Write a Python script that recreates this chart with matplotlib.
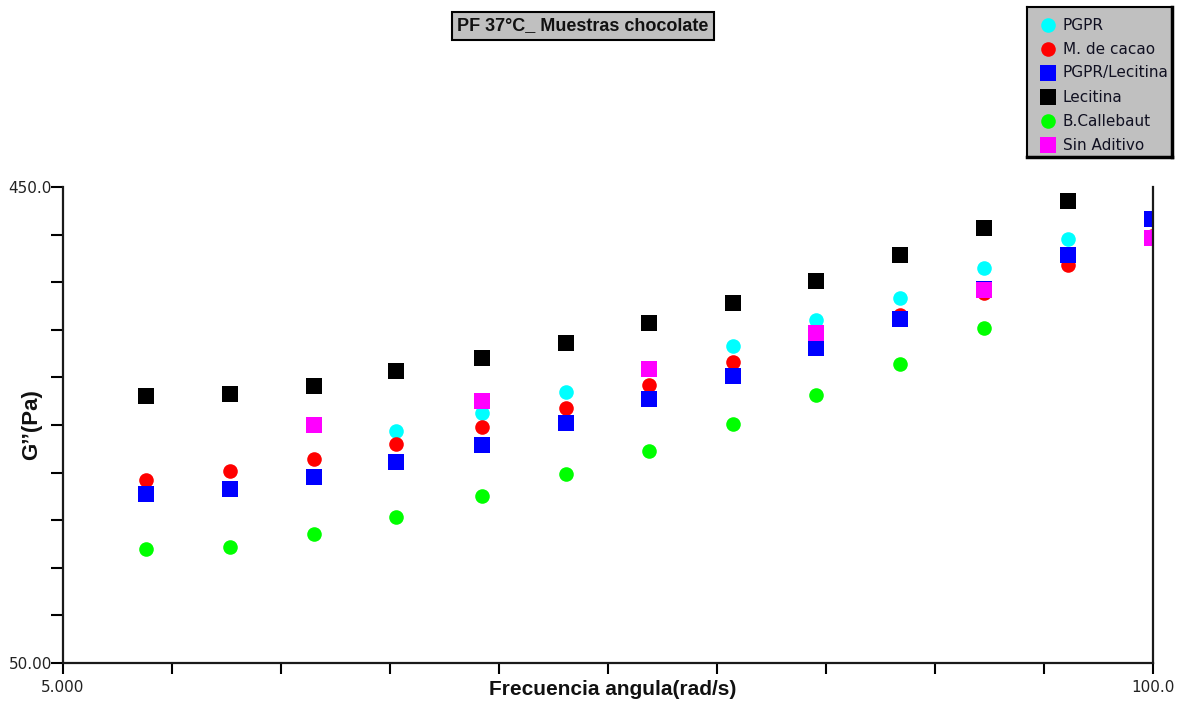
import numpy as np
import matplotlib as mpl
mpl.use('agg')
import matplotlib.pyplot as plt
from matplotlib.ticker import FixedLocator, NullLocator

# angular frequency sweep (rad/s)
freq = [6.28, 7.91, 9.96, 12.5, 15.8, 19.9, 25.0, 31.5, 39.6, 49.9, 62.8, 79.1, 99.6]

# G'' (Pa) for each sample
g_pgpr = [145.9, 158.6, 174.7, 194.3, 216.5, 243.6, 270.2, 309.7, 354.0]
g_cacao = [116.3, 121.3, 128.2, 137.4, 148.6, 162.3, 180.4, 200.2, 221.1, 249.3, 275.9, 314.1, 358.9]
g_pgpr_lec = [109.1, 111.7, 118.0, 126.5, 136.8, 151.4, 169.1, 188.1, 214.0, 244.7, 281.0, 328.9, 388.2]
g_lecitina = [171.7, 173.1, 179.8, 192.5, 204.4, 219.1, 240.2, 263.5, 291.7, 328.9, 372.4, 421.9]
g_callebaut = [84.6, 85.4, 90.7, 98.1, 108.1, 119.7, 133.0, 150.4, 172.3, 198.8, 234.7]
g_sin_aditivo = [150.2, 167.6, 194.3, 229.4, 279.7, 355.6]

# which frequencies each sample was measured at
series = [
    ("PGPR", freq[3:12], g_pgpr, "o", "#00ffff"),
    ("M. de cacao", freq, g_cacao, "o", "#ff0000"),
    ("PGPR/Lecitina", freq, g_pgpr_lec, "s", "#0000ff"),
    ("Lecitina", freq[:12], g_lecitina, "s", "#000000"),
    ("B.Callebaut", freq[:11], g_callebaut, "o", "#00ff00"),
    ("Sin Aditivo", freq[2::2], g_sin_aditivo, "s", "#ff00ff"),
]

W, H = 1180, 704
fig = plt.figure(figsize=(W / 100, H / 100), dpi=100)
fig.patch.set_facecolor("white")

ax = fig.add_axes([63 / W, 41 / H, 1090 / W, 476 / H])
ax.set_xscale("log")
ax.set_yscale("log")

for name, x, y, m, c in series:
    ms = 11 if m == "s" else 10.5
    ax.plot(x, y, linestyle="none", marker=m, ms=ms, color=c,
            markeredgewidth=0, clip_on=True)

ax.set_xlim(5, 100)
ax.set_ylim(50, 450)

xt = np.geomspace(5, 100, 11)
yt = np.geomspace(50, 450, 11)
ax.xaxis.set_major_locator(FixedLocator(xt))
ax.yaxis.set_major_locator(FixedLocator(yt))
ax.xaxis.set_minor_locator(NullLocator())
ax.yaxis.set_minor_locator(NullLocator())
ax.set_xticklabels(["5.000"] + [""] * 9 + ["100.0"])
ax.set_yticklabels(["50.00"] + [""] * 9 + ["450.0"])

ax.tick_params(axis="x", direction="out", length=8, width=1.5, pad=4,
               labelsize=11, labelcolor="#222222")
ax.tick_params(axis="y", direction="out", length=9, width=1.5, pad=-1,
               labelsize=11, labelcolor="#222222")
for lab in ax.get_xticklabels() + ax.get_yticklabels():
    lab.set_family("DejaVu Sans")

ax.spines["top"].set_visible(False)
for s in ("left", "bottom", "right"):
    ax.spines[s].set_linewidth(1.6)
    ax.spines[s].set_color("#1a1a1a")

ax.set_xlabel("Frecuencia angula(rad/s)", fontsize=15, fontweight="bold",
              family="Liberation Sans", color="#111111")
ax.xaxis.set_label_coords(0.504, -0.035)
ax.set_ylabel("G’’(Pa)", fontsize=16, fontweight="bold",
              family="Liberation Sans", color="#111111")
ax.yaxis.set_label_coords(-0.019, 0.5)

# title box
fig.text(583 / W, 1 - 26 / H, "PF 37°C_ Muestras chocolate", ha="center",
         va="center", fontsize=13, fontweight="bold", family="Liberation Sans",
         color="#111111",
         bbox=dict(boxstyle="square,pad=0.3", fc="#c0c0c0", ec="black", lw=1.5))

# legend panel, text clipped by its frame
lx0, ly0, lw, lh = 1027, 7, 145, 150
lax = fig.add_axes([lx0 / W, 1 - (ly0 + lh) / H, lw / W, lh / H])
lax.set_facecolor("#c0c0c0")
lax.set_xlim(0, lw)
lax.set_ylim(lh, 0)
lax.set_xticks([])
lax.set_yticks([])
for s in lax.spines.values():
    s.set_color("black")
    s.set_linewidth(1.5)
lax.spines["right"].set_linewidth(2.5)
lax.spines["bottom"].set_linewidth(2.5)

for i, (name, x, y, m, c) in enumerate(series):
    yy = 18 + i * 24
    lax.plot([21], [yy], linestyle="none", marker=m,
             ms=11 if m == "s" else 10.5, color=c, markeredgewidth=0)
    lax.text(36, yy, name, ha="left", va="center", fontsize=11,
             family="DejaVu Sans", color="#111122", clip_on=True)

fig.savefig("out.png", dpi=100, facecolor="white")
